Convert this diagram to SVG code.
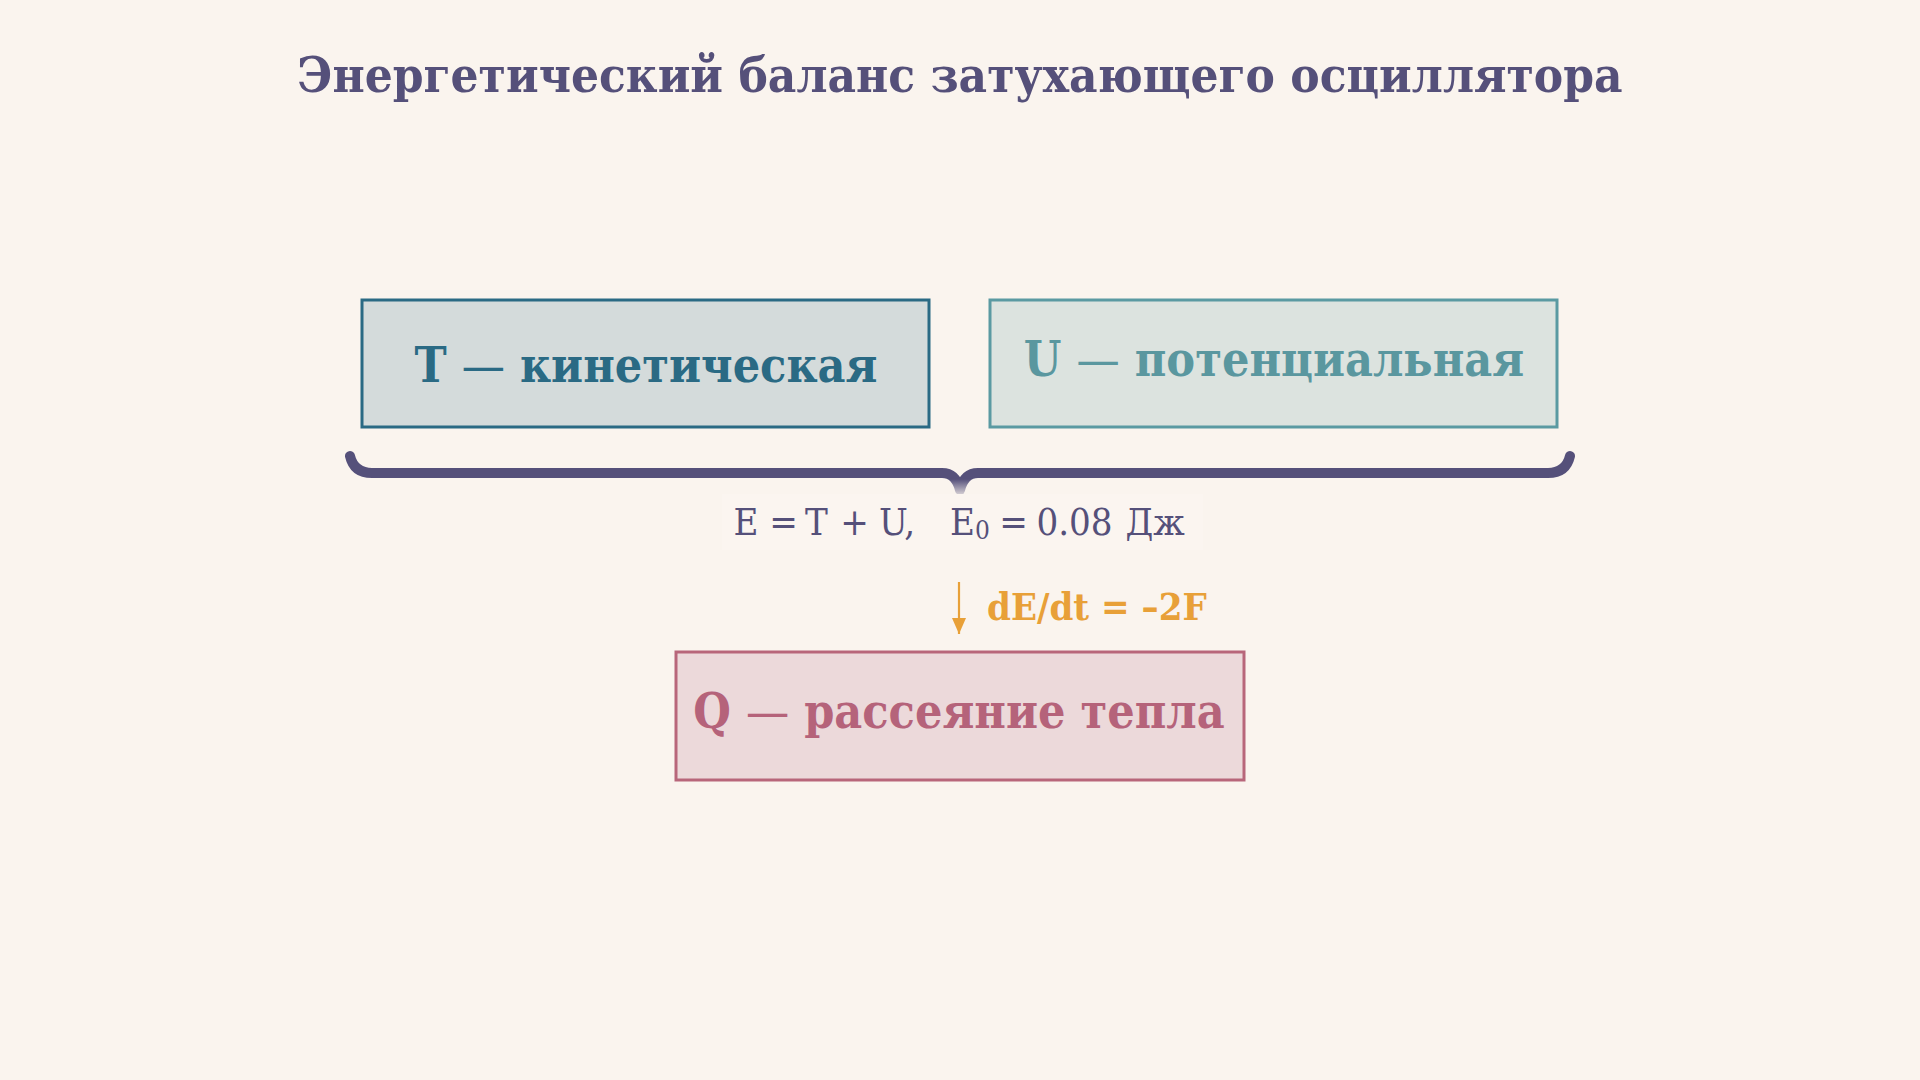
<svg xmlns="http://www.w3.org/2000/svg" width="1920" height="1080" viewBox="0 0 1920 1080">
<defs>
<style>
.t{font-family:"DejaVu Serif Condensed","DejaVu Serif",serif;font-stretch:condensed}
.b{font-weight:bold}
.n{font-weight:normal}
.title{font-size:49px;fill:#55507a}
.lbl{font-size:48px;text-anchor:middle}
.box{stroke-width:3}
.f{font-size:38px;fill:#55507a;text-anchor:middle}
</style>
<linearGradient id="braceG" gradientUnits="userSpaceOnUse" x1="0" y1="455" x2="0" y2="494">
<stop offset="0" stop-color="#55507a"/>
<stop offset="0.62" stop-color="#55507a"/>
<stop offset="1" stop-color="#55507a" stop-opacity="0.25"/>
</linearGradient>
<marker id="ah" markerWidth="16" markerHeight="14" refX="16" refY="7" orient="auto" markerUnits="userSpaceOnUse" viewBox="0 0 16 14">
<path d="M0 0 L16 7 L0 14 Z" fill="#e8a038"/>
</marker>
</defs>
<rect x="0" y="0" width="1920" height="1080" fill="#faf4ee"/>
<text class="t b title" x="960" y="92" text-anchor="middle">Энергетический баланс затухающего осциллятора</text>

<g id="node-T">
<rect class="box" x="362" y="300" width="567" height="127" fill="#d4dbdb" stroke="#2a6a84"/>
<text class="t b lbl" x="646" y="382" fill="#2a6a84">T <tspan class="n">—</tspan> кинетическая</text>
</g>
<g id="node-U">
<rect class="box" x="990" y="300" width="567" height="127" fill="#dce3df" stroke="#5a9aa2"/>
<text class="t b lbl" x="1274" y="376" fill="#5a979f">U <tspan class="n">—</tspan> потенциальная</text>
</g>
<g id="node-Q">
<rect class="box" x="676" y="652" width="568" height="128" fill="#ecd9da" stroke="#b8667a"/>
<text class="t b lbl" x="959" y="728" fill="#b5637a">Q <tspan class="n">—</tspan> рассеяние тепла</text>
</g>

<g id="connectors">
<path d="M350 456 Q354 473 372 473 L942 473 Q956 473 960 490 Q964 473 978 473 L1548 473 Q1566 473 1570 456" fill="none" stroke="url(#braceG)" stroke-width="10" stroke-linecap="round" stroke-linejoin="round"/>
<rect x="722" y="494" width="481" height="56" fill="#fbf5f0"/>
<text class="t f" y="535"><tspan x="746">E</tspan><tspan x="783.5">=</tspan><tspan x="816.5">T</tspan><tspan x="854.5">+</tspan><tspan x="897">U,</tspan><tspan x="962.5">E</tspan><tspan x="982.5" y="539" font-size="26">0</tspan><tspan x="1013.5" y="535">=</tspan><tspan x="1074.5">0.08</tspan><tspan x="1155">Дж</tspan></text>
<line x1="959" y1="582" x2="959" y2="634" stroke="#e8a038" stroke-width="2.2" marker-end="url(#ah)"/>
<text class="t b" x="987" y="620" font-size="38" fill="#e8a038">dE/dt = –2F</text>
</g>
</svg>
